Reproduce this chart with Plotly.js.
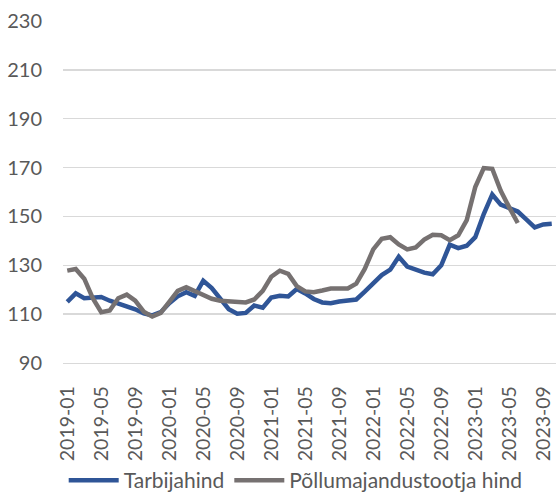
<!DOCTYPE html>
<html>
<head>
<meta charset="utf-8">
<script src="https://cdn.plot.ly/plotly-3.0.1.min.js"></script>
<style>html,body{margin:0;padding:0;background:#fff;}#chart{width:557px;height:493px;}</style>
</head>
<body>
<div id="chart"></div>
<script>
// Months 2019-01 .. 2023-10
const months = [];
for (let y = 2019; y <= 2023; y++) {
  for (let m = 1; m <= 12; m++) {
    if (y === 2023 && m > 10) break;
    months.push(y + '-' + String(m).padStart(2, '0'));
  }
}
const tickLabels = ['2019-01','2019-05','2019-09','2020-01','2020-05','2020-09','2021-01','2021-05','2021-09','2022-01','2022-05','2022-09','2023-01','2023-05','2023-09'];

const tarbijahind = [
  115, 118.5, 116.5, 116.7, 117, 115.5, 114.3, 113.3, 112, 110.3, 109.5, 110.8,
  114.5, 117.3, 119, 117.5, 123.7, 120.7, 116.7, 112, 110.2, 110.5, 113.5, 112.6,
  116.8, 117.5, 117.2, 120.3, 118.5, 116.2, 114.8, 114.5, 115.2, 115.5, 116, 119.2,
  122.5, 126, 128.2, 133.5, 129.5, 128, 127, 126.3, 130, 138.4, 137, 138,
  141.5, 151, 159, 154.8, 153.2, 152, 148.8, 145.5, 146.7, 147
];
const pollumajandus = [
  127.8, 128.5, 124.5, 116.5, 110.8, 111.5, 116.5, 118, 115.5, 111, 109, 110.5,
  115, 119.5, 121, 119.5, 117.5, 116.3, 115.5, 115.2, 115, 114.8, 116, 119.5,
  125.3, 127.8, 126.5, 121.5, 119.3, 119, 119.7, 120.5, 120.5, 120.5, 122.5, 128.5,
  136.5, 140.8, 141.5, 138.5, 136.5, 137.3, 140.5, 142.5, 142.3, 140.3, 142.3, 148.5,
  162, 169.8, 169.5, 160.5, 153.7, 147.3
];

const font = 'Lato, "Open Sans", sans-serif';
const traces = [
  {x: months, y: tarbijahind, type: 'scatter', mode: 'lines', name: 'Tarbijahind',
   line: {color: '#2F5597', width: 4.5}},
  {x: months.slice(0, pollumajandus.length), y: pollumajandus, type: 'scatter', mode: 'lines',
   name: 'Põllumajandustootja hind', line: {color: '#767171', width: 4.5}}
];
const layout = {
  width: 557, height: 493,
  margin: {l: 63, r: 1, t: 21, b: 129.5},
  paper_bgcolor: '#fff', plot_bgcolor: '#fff',
  font: {family: font, size: 20, color: '#595959'},
  showlegend: true,
  legend: {orientation: 'h', x: 0.472, xanchor: 'center', yref: 'container', y: 0.0669, yanchor: 'top',
           bgcolor: 'rgba(0,0,0,0)', borderwidth: 0,
           font: {family: font, size: 21, color: '#595959'}, itemwidth: 50, traceorder: 'normal'},
  xaxis: {type: 'category', categoryorder: 'array', categoryarray: months,
          tickmode: 'array', tickvals: tickLabels, ticktext: tickLabels,
          tickfont: {family: font, size: 19.5, color: '#595959'},
          tickangle: -90, showgrid: false, zeroline: false,
          showline: true, linecolor: '#D9D9D9', linewidth: 1.3,
          ticks: 'outside', ticklen: 14, tickcolor: 'rgba(0,0,0,0)',
          range: [-0.5, months.length - 0.5], fixedrange: true},
  yaxis: {range: [90, 230], dtick: 20, tick0: 90, showgrid: true, gridcolor: '#D9D9D9', gridwidth: 1.3,
          zeroline: false, showline: false, ticks: 'outside', ticklen: 16, tickcolor: 'rgba(0,0,0,0)'}
};
Plotly.newPlot('chart', traces, layout, {displayModeBar: false, staticPlot: true});
</script>
</body>
</html>
